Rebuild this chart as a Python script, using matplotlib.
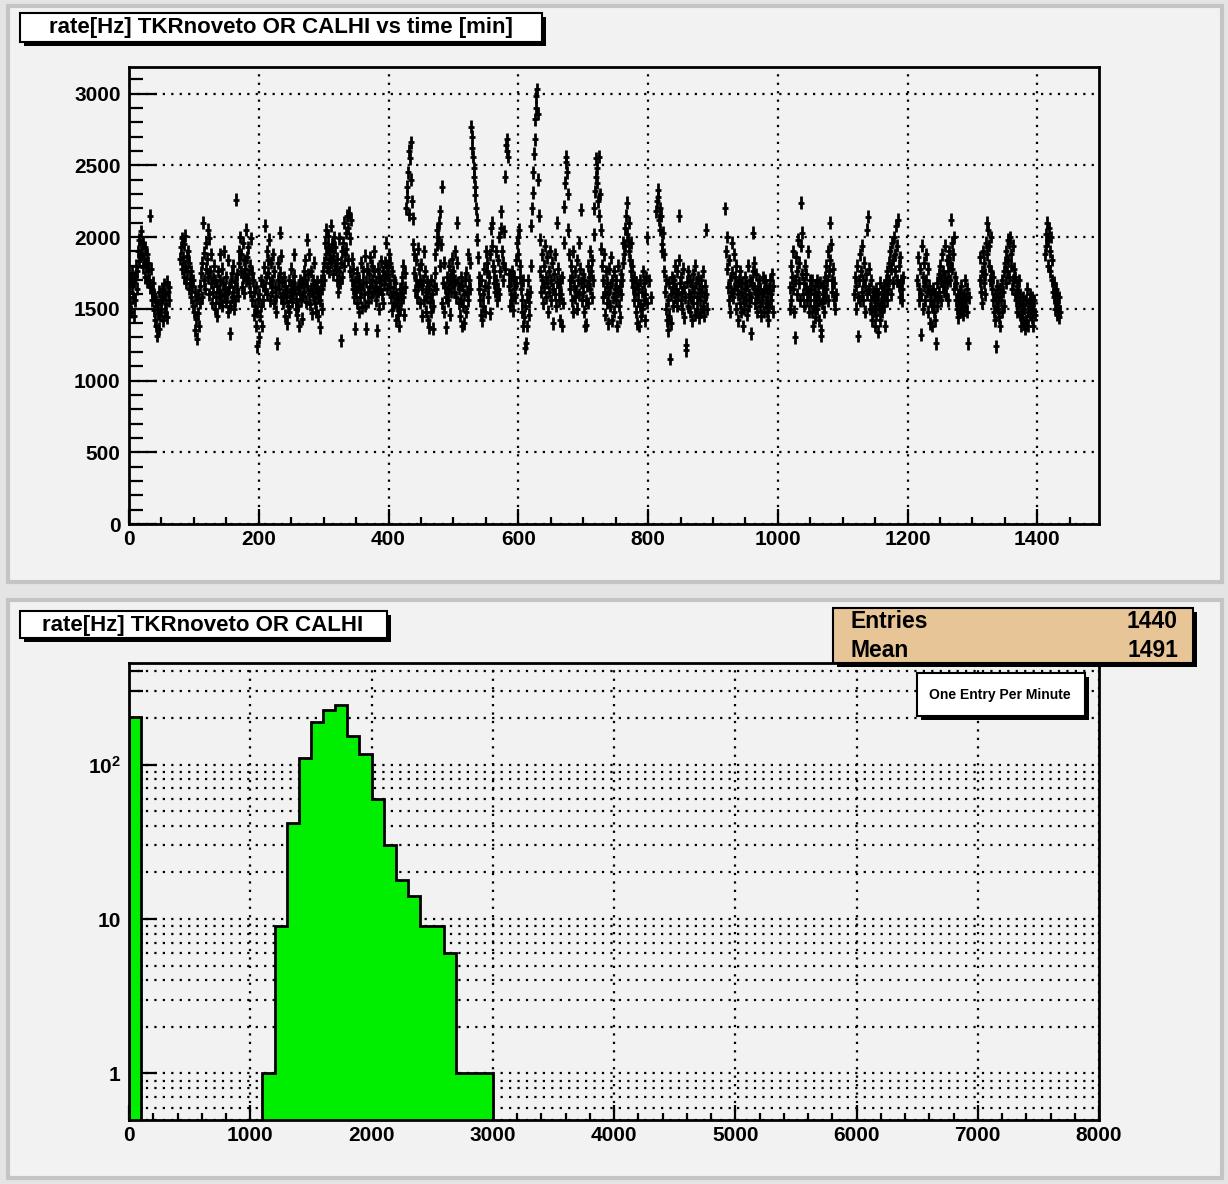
import numpy as np
import matplotlib
matplotlib.use('Agg')
import matplotlib.pyplot as plt
from matplotlib.patches import Rectangle
from matplotlib.ticker import MultipleLocator, FixedLocator, LogLocator, NullFormatter

plt.rcParams['font.family'] = ['Liberation Sans', 'DejaVu Sans']
plt.rcParams['font.weight'] = 'bold'
plt.rcParams['mathtext.fontset'] = 'custom'
plt.rcParams['mathtext.rm'] = 'Liberation Sans:bold'
plt.rcParams['mathtext.bf'] = 'Liberation Sans:bold'
plt.rcParams['mathtext.default'] = 'bf'

# rate [Hz] per minute, 0 = no data that minute
rate_0000 = [1620, 1540, 1700, 1480, 1660, 1750, 1580, 1450, 1690, 1560,
             1720, 1800, 1640, 1760, 1900, 1830, 1980, 1870, 1950, 2040,
             1880, 1790, 1960, 1850, 1720, 1930, 1800, 1690, 1880, 1760,
             1820, 1700, 1650, 2150, 1780, 1620, 1560, 1680, 1490, 1600,
             1420, 1550, 1380, 1310, 1470, 1530, 1360, 1620, 1450, 1560,
             1500, 1640, 1420, 1580, 1670, 1480, 1600, 1530, 1690, 1440,
             1620, 1560, 1650, 0, 0, 0, 0, 0, 0, 0,
             0, 0, 0, 0, 0, 0, 0, 0, 0, 1850,
             1930, 1780, 1990, 1860, 1720, 1950, 1800, 2010, 1680, 1870,
             1760, 1900, 1640, 1820, 1710, 1580, 1760, 1660, 1520, 1700]
rate_0100 = [1480, 1620, 1350, 1560, 1430, 1290, 1600, 1470, 1380, 1540,
             1660, 1750, 1580, 1820, 2100, 1700, 1890, 1640, 1960, 1780,
             1850, 2050, 1720, 1600, 1990, 1760, 1680, 1880, 1540, 1710,
             1620, 1800, 1500, 1700, 1580, 1660, 1450, 1760, 1620, 1540,
             1700, 1880, 1600, 1520, 1780, 1680, 1590, 1900, 1640, 1550,
             1720, 1600, 1840, 1480, 1650, 1520, 1330, 1700, 1580, 1750,
             1620, 1800, 1500, 1690, 1560, 2260, 1640, 1740, 1590, 1900,
             1820, 2000, 1760, 1880, 1650, 1960, 1720, 1840, 1610, 1780,
             1700, 2050, 1860, 1740, 1930, 1680, 1800, 1620, 1990, 1750,
             1560, 1700, 1460, 1620, 1520, 1380, 1650, 1480, 1240, 1570]
rate_0200 = [1300, 1600, 1450, 1700, 1520, 1380, 1660, 1560, 1790, 1640,
             2080, 1720, 1900, 1600, 1840, 1750, 1980, 1680, 1560, 1820,
             1700, 1620, 1880, 1540, 1760, 1650, 1480, 1590, 1260, 1700,
             1820, 1640, 2030, 1750, 1580, 1870, 1690, 1600, 1540, 1720,
             1450, 1660, 1580, 1400, 1620, 1520, 1700, 1480, 1590, 1640,
             1780, 1550, 1690, 1610, 1880, 1730, 1640, 1500, 1570, 1460,
             1650, 1520, 1380, 1600, 1700, 1560, 1430, 1680, 1590, 1760,
             1620, 1840, 1700, 1550, 1660, 1980, 1740, 1600, 1880, 1530,
             1640, 1760, 1470, 1700, 1590, 1820, 1650, 1540, 1480, 1610,
             1690, 1580, 1450, 1620, 1370, 1560, 1700, 1500, 1640, 1760]
rate_0300 = [1820, 1700, 1960, 1880, 2050, 1790, 1930, 2010, 1850, 1760,
             1900, 2080, 1820, 1950, 1740, 1870, 2000, 1800, 1930, 1780,
             1700, 1850, 1620, 1760, 1990, 1680, 1280, 1820, 1720, 1900,
             1960, 1800, 2100, 1880, 2030, 1920, 2150, 2060, 1840, 2170,
             1990, 1760, 2120, 1850, 1700, 1640, 1780, 1580, 1690, 1360,
             1620, 1540, 1750, 1660, 1480, 1700, 1580, 1820, 1640, 1510,
             1680, 1760, 1600, 1870, 1520, 1360, 1690, 1780, 1620, 1550,
             1740, 1860, 1650, 1580, 1800, 1700, 1620, 1900, 1760, 1640,
             1560, 1690, 1350, 1780, 1620, 1720, 1500, 1640, 1830, 1700,
             1600, 1760, 1540, 1670, 1820, 1720, 1960, 1800, 1640, 1740]
rate_0400 = [1880, 1700, 1820, 1650, 1580, 1760, 1490, 1620, 1700, 1540,
             1680, 1420, 1600, 1520, 1460, 1580, 1380, 1640, 1500, 1560,
             1720, 1640, 1800, 1580, 1460, 1650, 1750, 2200, 2350, 2280,
             2450, 2160, 2600, 2550, 2660, 2400, 2250, 1950, 2130, 1880,
             1750, 1630, 1840, 1700, 1580, 1920, 1660, 1780, 1540, 1700,
             1810, 1640, 1450, 1700, 1560, 1900, 1760, 1620, 1480, 1690,
             1580, 1420, 1640, 1370, 1550, 1700, 1480, 1600, 1360, 1520,
             1660, 1750, 1880, 1640, 1950, 2050, 1960, 2000, 2100, 1800,
             2180, 1950, 1540, 2350, 1680, 1480, 1820, 1650, 1370, 1580,
             1720, 1640, 1560, 1800, 1700, 1460, 1620, 1740, 1850, 1680]
rate_0500 = [1760, 1620, 1900, 1700, 1580, 1820, 2100, 1680, 1540, 1640,
             1450, 1720, 1560, 1380, 1660, 1520, 1400, 1600, 1700, 1480,
             1750, 1620, 1880, 1560, 1700, 1640, 1820, 2770, 2700, 2620,
             2560, 2480, 2420, 2350, 2290, 2200, 2120, 1980, 1860, 1720,
             1640, 1560, 1460, 1700, 1420, 1600, 1520, 1780, 1660, 1480,
             1900, 1760, 1820, 1650, 1580, 1720, 1470, 1880, 2060, 2100,
             1940, 1800, 1680, 1760, 1620, 1900, 1700, 1560, 1840, 1640,
             1600, 2000, 1760, 2180, 2060, 1900, 1820, 1700, 2040, 1780,
             2420, 2640, 2600, 2680, 2560, 1740, 1660, 1520, 1700, 1600,
             1560, 1760, 1490, 1640, 1720, 1580, 1840, 1680, 1960, 2000]
rate_0600 = [1880, 2050, 1800, 1720, 1640, 1560, 1480, 1380, 1700, 1440,
             1230, 1520, 1260, 1600, 1380, 1700, 1550, 1460, 1620, 1800,
             2080, 2200, 2310, 2450, 2580, 2680, 2820, 2900, 2980, 3030,
             2860, 2400, 2150, 1980, 1760, 1620, 1880, 1700, 1540, 1800,
             1650, 1940, 1720, 1580, 1860, 1680, 1480, 1760, 1620, 1900,
             1700, 1560, 1820, 1640, 1400, 1740, 1600, 1880, 1520, 1690,
             2100, 1780, 1650, 1560, 1420, 1700, 1600, 1380, 1720, 1540,
             1960, 2210, 2380, 2560, 2520, 2450, 2300, 2050, 1880, 1700,
             1640, 1800, 1560, 1720, 1480, 1900, 1660, 1580, 1760, 1620,
             1840, 1500, 1700, 1600, 1960, 1780, 2190, 1680, 1560, 1740]
rate_0700 = [1620, 1480, 1700, 1380, 1560, 1390, 1660, 1800, 1540, 1720,
             1900, 1640, 1760, 1580, 1840, 1700, 2020, 2200, 2320, 2420,
             2550, 2480, 2380, 2250, 2560, 2150, 2300, 2050, 1920, 1800,
             1700, 1580, 1880, 1620, 1460, 1760, 1540, 1680, 1400, 1600,
             1780, 1520, 1650, 1860, 1420, 1700, 1580, 1760, 1480, 1640,
             1560, 1700, 1380, 1620, 1800, 1520, 1660, 1440, 1740, 1600,
             1700, 1820, 1960, 1880, 2060, 1940, 2150, 2020, 2240, 1980,
             1900, 2100, 1840, 1760, 1960, 1700, 1800, 1650, 1560, 1720,
             1600, 1480, 1680, 1400, 1560, 1640, 1380, 1520, 1700, 1450,
             1620, 1500, 1760, 1560, 1680, 1420, 1600, 1720, 1540, 2000]
rate_0800 = [0, 0, 1700, 0, 0, 1580, 0, 0, 0, 0,
             0, 0, 0, 2180, 2250, 2330, 2280, 2120, 2200, 2050,
             2150, 1950, 1900, 2030, 1880, 1760, 1620, 1700, 1500, 1420,
             1560, 1350, 1680, 1450, 1150, 1600, 1400, 1720, 1520, 1650,
             1700, 1580, 1800, 1640, 1520, 1760, 1600, 1840, 2150, 1680,
             1560, 1720, 1620, 1500, 1780, 1650, 1440, 1580, 1250, 1210,
             1690, 1520, 1760, 1600, 1480, 1700, 1580, 1420, 1660, 1740,
             1540, 1620, 1460, 1800, 1680, 1500, 1580, 1720, 1440, 1640,
             1560, 1700, 1480, 1620, 1760, 1520, 1450, 1660, 1580, 2050,
             1600, 1500, 0, 0, 0, 0, 0, 0, 0, 0]
rate_0900 = [0, 0, 0, 0, 0, 0, 0, 0, 0, 0,
             0, 0, 0, 0, 0, 0, 0, 0, 0, 2200,
             1900, 1780, 2000, 1650, 1560, 1840, 1700, 1480, 1620, 1960,
             1750, 1580, 1880, 1640, 1720, 1500, 1800, 1660, 1420, 1600,
             1700, 1540, 1760, 1620, 1480, 1680, 1380, 1580, 1500, 1640,
             1720, 1560, 1660, 1460, 1800, 1600, 1520, 1700, 1330, 1580,
             1680, 1760, 2030, 1820, 1640, 1540, 1740, 1600, 1480, 1660,
             1580, 1700, 1520, 1640, 1450, 1600, 1560, 1720, 1480, 1620,
             1700, 1540, 1660, 1480, 1580, 1420, 1640, 1520, 1700, 1560,
             1600, 1740, 1660, 1480, 0, 0, 0, 0, 0, 0]
rate_1000 = [0, 0, 0, 0, 0, 0, 0, 0, 0, 0,
             0, 0, 0, 0, 0, 0, 0, 0, 1500, 1650,
             1800, 1560, 1720, 1900, 1640, 1480, 1300, 1700, 1860, 1600,
             1760, 1980, 1680, 1820, 1560, 1940, 2240, 2030, 1740, 1600,
             1680, 1520, 1800, 1640, 1740, 1560, 1900, 1620, 1480, 1700,
             1560, 1640, 1480, 1700, 1380, 1600, 1520, 1660, 1440, 1580,
             1700, 1500, 1620, 1420, 1560, 1680, 1350, 1310, 1540, 1600,
             1660, 1480, 1720, 1580, 1640, 1800, 1700, 1560, 1900, 1760,
             2100, 1840, 1950, 1700, 1620, 1780, 1560, 1680, 1500, 1600,
             0, 0, 0, 0, 0, 0, 0, 0, 0, 0]
rate_1100 = [0, 0, 0, 0, 0, 0, 0, 0, 0, 0,
             0, 0, 0, 0, 0, 0, 0, 0, 1600, 1720,
             1500, 1660, 1800, 1580, 1310, 1700, 1880, 1560, 1760, 1620,
             1940, 1700, 1560, 1820, 1660, 1480, 1740, 1600, 2050, 2140,
             1780, 1640, 1500, 1700, 1560, 1420, 1620, 1480, 1580, 1380,
             1520, 1640, 1460, 1560, 1340, 1600, 1500, 1680, 1420, 1540,
             1620, 1480, 1580, 1660, 1520, 1380, 1600, 1700, 1560, 1760,
             1640, 1820, 1700, 1900, 1780, 1600, 1960, 1840, 1680, 2000,
             1760, 1880, 2080, 1700, 1940, 2120, 1800, 1660, 1860, 1580,
             1700, 1560, 1640, 1720, 0, 0, 0, 0, 0, 0]
rate_1200 = [0, 0, 0, 0, 0, 0, 0, 0, 0, 0,
             0, 0, 0, 0, 0, 1700, 1860, 1560, 1640, 1780,
             1320, 1600, 1940, 1720, 1500, 1820, 1660, 1560, 1880, 1700,
             1620, 1780, 1480, 1660, 1560, 1400, 1600, 1520, 1380, 1640,
             1480, 1560, 1420, 1600, 1260, 1520, 1680, 1580, 1740, 1620,
             1800, 1700, 1560, 1880, 1660, 1760, 1620, 1940, 1720, 1600,
             1840, 1680, 1760, 1560, 1900, 1700, 1820, 2120, 1960, 1780,
             1880, 1640, 2000, 1720, 1560, 1680, 1500, 1600, 1440, 1560,
             1620, 1480, 1540, 1660, 1500, 1580, 1460, 1600, 1520, 1700,
             1560, 1640, 1480, 1260, 1580, 0, 0, 0, 0, 0]
rate_1300 = [0, 0, 0, 0, 0, 0, 0, 0, 0, 0,
             0, 1700, 1860, 1620, 1760, 1540, 1900, 1680, 1820, 1600,
             1740, 1960, 1880, 2100, 2050, 1800, 1940, 1700, 2000, 1760,
             1640, 1560, 1720, 1480, 1600, 1420, 1520, 1240, 1660, 1500,
             1580, 1440, 1640, 1380, 1560, 1480, 1700, 1620, 1520, 1760,
             1820, 1680, 1900, 1760, 1980, 1840, 1960, 1720, 2000, 1800,
             1880, 1640, 1940, 1700, 1780, 1600, 1720, 1560, 1660, 1480,
             1620, 1540, 1700, 1460, 1600, 1380, 1520, 1440, 1580, 1400,
             1500, 1360, 1560, 1420, 1640, 1480, 1380, 1540, 1460, 1600,
             1520, 1440, 1580, 1500, 1380, 1560, 1460, 0, 0, 0]
rate_1400 = [0, 0, 0, 0, 0, 0, 0, 0, 0, 0,
             0, 0, 1880, 2020, 1940, 2100, 1800, 1980, 2060, 1900,
             1760, 2000, 1700, 1840, 1620, 1580, 1680, 1500, 1640, 1560,
             1460, 1600, 1520, 1440, 1580, 1480, 0, 0, 0, 0]

# histogram: 100 Hz bins starting at 0
hist_bin_lo = [0, 100, 200, 300, 400, 500, 600, 700, 800, 900,
               1000, 1100, 1200, 1300, 1400, 1500, 1600, 1700, 1800, 1900,
               2000, 2100, 2200, 2300, 2400, 2500, 2600, 2700, 2800, 2900]
hist_counts = [203, 0, 0, 0, 0, 0, 0, 0, 0, 0,
               0, 1, 9, 42, 110, 188, 226, 241, 154, 117,
               60, 30, 18, 14, 9, 9, 6, 1, 1, 1]
bin_width = 100

n_entries = 1440
mean_val = 1491

rate = np.array(rate_0000 + rate_0100 + rate_0200 + rate_0300 + rate_0400 +
                rate_0500 + rate_0600 + rate_0700 + rate_0800 + rate_0900 +
                rate_1000 + rate_1100 + rate_1200 + rate_1300 + rate_1400, dtype=float)
minutes = np.arange(len(rate))
ok = rate > 0

W, H = 1228, 1184
fig = plt.figure(figsize=(W / 100, H / 100), dpi=100)
fig.patch.set_facecolor('#e4e4e4')


def fx(x):
    return x / W


def fy(y):
    return 1 - y / H


def rect(x0, y0, x1, y1, **kw):
    r = Rectangle((fx(x0), fy(y1)), (x1 - x0) / W, (y1 - y0) / H,
                  transform=fig.transFigure, **kw)
    fig.patches.append(r)


def shadow_box(x0, y0, x1, y1, fc, z=5, sh=4):
    rect(x0 + sh, y0 + sh, x1 + sh, y1 + sh, fc='black', ec='none', zorder=z)
    rect(x0, y0, x1, y1, fc=fc, ec='black', lw=1.5, zorder=z + 0.1)


# pads
pad_col = '#f2f2f2'
rect(8, 6, 1222, 582, fc=pad_col, ec='#c4c4c4', lw=3, zorder=-2)
rect(8, 600, 1222, 1178, fc=pad_col, ec='#c4c4c4', lw=3, zorder=-2)

grid_kw = dict(color='black', linestyle=(0, (1, 2.8)), linewidth=1.6)

# ---- top: rate vs time
ax1 = fig.add_axes([fx(129), fy(524), (1099 - 129) / W, (524 - 67) / H])
ax1.set_facecolor('none')
ax1.errorbar(minutes[ok], rate[ok], yerr=45, fmt='none', ecolor='black',
             elinewidth=2.0, capsize=0)
ax1.plot(minutes[ok], rate[ok], '_', color='black', ms=4, mew=2.0)
ax1.set_xlim(0, 1495)
ax1.set_ylim(0, 3185)
ax1.xaxis.set_major_locator(MultipleLocator(200))
ax1.xaxis.set_minor_locator(MultipleLocator(50))
ax1.yaxis.set_major_locator(MultipleLocator(500))
ax1.yaxis.set_minor_locator(MultipleLocator(100))
ax1.grid(True, which='major', **grid_kw)

# ---- bottom: histogram
ax2 = fig.add_axes([fx(129), fy(1120), (1099 - 129) / W, (1120 - 663) / H])
ax2.set_facecolor('none')
edges = np.array(hist_bin_lo + [hist_bin_lo[-1] + bin_width], dtype=float)
counts = np.array(hist_counts, dtype=float)
ax2.set_yscale('log')
ax2.bar(edges[:-1][counts > 0], counts[counts > 0], width=bin_width, align='edge',
        color='#00ee00', edgecolor='none', zorder=2)
ax2.stairs(np.where(counts > 0, counts, 1e-3), edges, baseline=1e-3,
           color='black', lw=2, zorder=3)
ax2.set_xlim(0, 8000)
ax2.set_ylim(0.5, 454)
ax2.xaxis.set_major_locator(MultipleLocator(1000))
ax2.xaxis.set_minor_locator(MultipleLocator(200))
ax2.yaxis.set_major_locator(FixedLocator([1, 10, 100]))
ax2.set_yticklabels(['1', '10', '$10^{2}$'])
ax2.yaxis.set_minor_locator(LogLocator(base=10, subs=np.arange(2, 10)))
ax2.yaxis.set_minor_formatter(NullFormatter())
ax2.xaxis.grid(True, which='major', **grid_kw)
ax2.yaxis.grid(True, which='both', **grid_kw)

for ax in (ax1, ax2):
    ax.set_axisbelow(True)
    for s in ax.spines.values():
        s.set_linewidth(2)
    ax.tick_params(which='both', direction='in', top=False, right=False,
                   labelsize=15, width=1.6)
    ax.tick_params(axis='y', which='major', length=20, pad=6)
    ax.tick_params(axis='y', which='minor', length=10)
    ax.tick_params(axis='x', which='major', length=11, pad=4)
    ax.tick_params(axis='x', which='minor', length=5)

# title boxes
shadow_box(20, 13, 542, 42, 'white')
fig.text(fx(281), fy(28), 'rate[Hz] TKRnoveto OR CALHI vs time [min]',
         ha='center', va='center', fontsize=16, zorder=10)
shadow_box(20, 611, 387, 638, 'white')
fig.text(fx(203), fy(625), 'rate[Hz] TKRnoveto OR CALHI',
         ha='center', va='center', fontsize=16, zorder=10)

# stats box
shadow_box(833, 608, 1193, 663, '#e8c596')
fig.text(fx(850), fy(622), 'Entries', ha='left', va='center', fontsize=16.5, zorder=10)
fig.text(fx(1178), fy(622), str(n_entries), ha='right', va='center', fontsize=16.5, zorder=10)
fig.text(fx(850), fy(651), 'Mean', ha='left', va='center', fontsize=16.5, zorder=10)
fig.text(fx(1178), fy(651), str(mean_val), ha='right', va='center', fontsize=16.5, zorder=10)

# legend box
shadow_box(917, 673, 1085, 716, 'white')
fig.text(fx(1000), fy(695), 'One Entry Per Minute', ha='center', va='center',
         fontsize=10, zorder=10)

fig.savefig('out.png', dpi=100, facecolor=fig.get_facecolor())
